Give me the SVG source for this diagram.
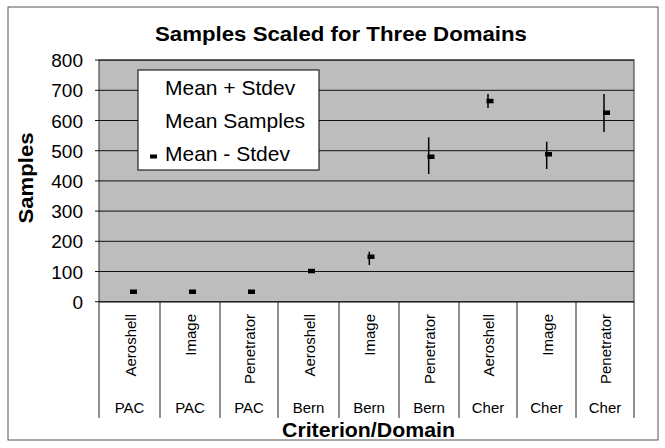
<svg xmlns="http://www.w3.org/2000/svg" width="665" height="448" viewBox="0 0 665 448">
<style>
text{font-family:"Liberation Sans",Arial,Helvetica,sans-serif;fill:#000}
.ttl{font-size:21px;font-weight:bold}
.ax{font-size:21px;font-weight:bold}
.yl{font-size:19px;text-anchor:end}
.lg{font-size:21px}
.cat{font-size:15px;text-anchor:end}
.dom{font-size:15px;text-anchor:middle}
.grid{stroke:#111;stroke-width:1}
.sep{stroke:#222;stroke-width:1}
.bar{stroke:#000;stroke-width:1.5}
.mk{fill:#000}
</style>
<rect x="0" y="0" width="665" height="448" fill="#fff"/>
<rect x="8" y="7" width="650" height="433" fill="none" stroke="#555" stroke-width="1"/>
<g id="title"><text class="ttl" x="341" y="41" text-anchor="middle" textLength="372" lengthAdjust="spacingAndGlyphs">Samples Scaled for Three Domains</text></g>
<g id="plot">
<rect x="99" y="60" width="535" height="242" fill="#bdbdbd" stroke="#333" stroke-width="1"/>
<line class="grid" x1="95" y1="60.1" x2="634" y2="60.1"/>
<line class="grid" x1="95" y1="90.3" x2="634" y2="90.3"/>
<line class="grid" x1="95" y1="120.5" x2="634" y2="120.5"/>
<line class="grid" x1="95" y1="150.7" x2="634" y2="150.7"/>
<line class="grid" x1="95" y1="180.9" x2="634" y2="180.9"/>
<line class="grid" x1="95" y1="211.1" x2="634" y2="211.1"/>
<line class="grid" x1="95" y1="241.3" x2="634" y2="241.3"/>
<line class="grid" x1="95" y1="271.5" x2="634" y2="271.5"/>
<line class="grid" x1="95" y1="301.7" x2="634" y2="301.7"/>
</g>
<g id="y-axis">
<text class="yl" x="83" y="67">800</text>
<text class="yl" x="83" y="97">700</text>
<text class="yl" x="83" y="127.5">600</text>
<text class="yl" x="83" y="157.5">500</text>
<text class="yl" x="83" y="188">400</text>
<text class="yl" x="83" y="218">300</text>
<text class="yl" x="83" y="248">200</text>
<text class="yl" x="83" y="278.5">100</text>
<text class="yl" x="83" y="308.5">0</text>
<text class="ax" transform="translate(33,178) rotate(-90)" text-anchor="middle" textLength="91" lengthAdjust="spacingAndGlyphs">Samples</text>
</g>
<g id="x-axis">
<line class="sep" x1="99" y1="302" x2="99" y2="418"/>
<line class="sep" x1="160" y1="302" x2="160" y2="418"/>
<line class="sep" x1="220" y1="302" x2="220" y2="418"/>
<line class="sep" x1="278" y1="302" x2="278" y2="418"/>
<line class="sep" x1="339" y1="302" x2="339" y2="418"/>
<line class="sep" x1="399" y1="302" x2="399" y2="418"/>
<line class="sep" x1="459" y1="302" x2="459" y2="418"/>
<line class="sep" x1="517" y1="302" x2="517" y2="418"/>
<line class="sep" x1="576" y1="302" x2="576" y2="418"/>
<line class="sep" x1="634" y1="302" x2="634" y2="418"/>
<text class="cat" transform="translate(135.5,314) rotate(-90)">Aeroshell</text>
<text class="cat" transform="translate(196,314) rotate(-90)">Image</text>
<text class="cat" transform="translate(255,314) rotate(-90)">Penetrator</text>
<text class="cat" transform="translate(314.5,314) rotate(-90)">Aeroshell</text>
<text class="cat" transform="translate(375,314) rotate(-90)">Image</text>
<text class="cat" transform="translate(435,314) rotate(-90)">Penetrator</text>
<text class="cat" transform="translate(494,314) rotate(-90)">Aeroshell</text>
<text class="cat" transform="translate(552.5,314) rotate(-90)">Image</text>
<text class="cat" transform="translate(611,314) rotate(-90)">Penetrator</text>
<text class="dom" x="129.5" y="413">PAC</text>
<text class="dom" x="190" y="413">PAC</text>
<text class="dom" x="249" y="413">PAC</text>
<text class="dom" x="308.5" y="413">Bern</text>
<text class="dom" x="369" y="413">Bern</text>
<text class="dom" x="429" y="413">Bern</text>
<text class="dom" x="488" y="413">Cher</text>
<text class="dom" x="546.5" y="413">Cher</text>
<text class="dom" x="605" y="413">Cher</text>
<text class="ax" x="368.5" y="437" text-anchor="middle" textLength="173" lengthAdjust="spacingAndGlyphs">Criterion/Domain</text>
</g>
<g id="data">
<rect class="mk" x="130" y="289.5" width="7" height="4.5"/>
<rect class="mk" x="189" y="289.5" width="7" height="4.5"/>
<rect class="mk" x="248" y="289.5" width="7" height="4.5"/>
<rect class="mk" x="308" y="268.8" width="7" height="4.5"/>
<line class="bar" x1="369.3" y1="251.7" x2="369.3" y2="265"/>
<rect class="mk" x="367.5" y="254.5" width="7" height="4.5"/>
<line class="bar" x1="428.7" y1="137.3" x2="428.7" y2="174"/>
<rect class="mk" x="427.5" y="154.5" width="7" height="4.5"/>
<line class="bar" x1="488" y1="94" x2="488" y2="108"/>
<rect class="mk" x="486.5" y="98.8" width="7" height="4.5"/>
<line class="bar" x1="546.7" y1="141.7" x2="546.7" y2="169"/>
<rect class="mk" x="545" y="152" width="7" height="4.5"/>
<line class="bar" x1="604" y1="94" x2="604" y2="132"/>
<rect class="mk" x="603" y="110.5" width="7" height="4.5"/>
</g>
<g id="legend">
<rect x="138" y="70" width="181" height="100" fill="#fff" stroke="#000" stroke-width="1"/>
<text class="lg" x="165" y="95">Mean + Stdev</text>
<text class="lg" x="165" y="128">Mean Samples</text>
<rect class="mk" x="150" y="154.5" width="7" height="4"/>
<text class="lg" x="165" y="161">Mean - Stdev</text>
</g>
</svg>
